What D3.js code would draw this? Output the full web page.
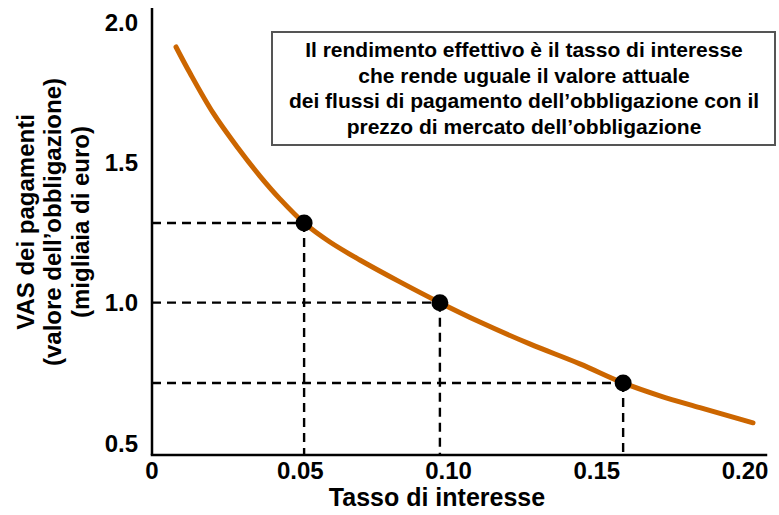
<!DOCTYPE html>
<html><head><meta charset="utf-8">
<script src="https://cdn.jsdelivr.net/npm/d3@7"></script>
<style>body{margin:0;background:#fff}text{font-family:"Liberation Sans",Arial,sans-serif;font-weight:bold;fill:#000}</style>
</head><body><svg id="c" width="779" height="515"></svg>
<script>
// Data
const curveRate  = [0.0081,0.0128,0.0206,0.0290,0.0364,0.0432,0.0513,0.0600,0.0701,0.0836,0.0971,0.1106,0.1274,0.1443,0.1589,0.1713,0.1848,0.2027];
const curveValue = [1.911,1.818,1.676,1.551,1.451,1.369,1.284,1.216,1.152,1.074,1.000,0.931,0.853,0.782,0.714,0.668,0.626,0.572];
const pointRate  = [0.0513,0.0971,0.1589];
const pointValue = [1.284,1.000,0.714];
const xTicks = [0,0.05,0.10,0.15,0.20];
const xTickLabels = ["0","0.05","0.10","0.15","0.20"];
const yTicks = [0.5,1.0,1.5,2.0];
const yTickLabels = ["0.5","1.0","1.5","2.0"];
const yTitle = ["VAS dei pagamenti","(valore dell\u2019obbligazione)","(migliaia di euro)"];
const xTitle = "Tasso di interesse";
const boxLines = ["Il rendimento effettivo è il tasso di interesse","che rende uguale il valore attuale","dei flussi di pagamento dell\u2019obbligazione con il","prezzo di mercato dell\u2019obbligazione"];

const svg = d3.select("#c");
const x = d3.scaleLinear().domain([0,0.2]).range([152,745]);
const y = d3.scaleLinear().domain([0.5,2.0]).range([443,22]);
const xMin = 0, xMax = 0.2075, yMin = 0.4575, yMax = 2.05;

// dashed guides
const pts = pointRate.map((r,i)=>({r, v:pointValue[i]}));
const g = svg.append("g").attr("stroke","#000").attr("stroke-width",2.4).attr("stroke-dasharray","9,6").attr("fill","none");
pts.forEach(p=>{
  g.append("line").attr("x1",x(xMin)).attr("x2",x(p.r)).attr("y1",y(p.v)).attr("y2",y(p.v));
  g.append("line").attr("x1",x(p.r)).attr("x2",x(p.r)).attr("y1",y(p.v)).attr("y2",y(yMin));
});

// curve
const data = curveRate.map((r,i)=>({r, v:curveValue[i]}));
svg.append("path").datum(data)
  .attr("d", d3.line().x(d=>x(d.r)).y(d=>y(d.v)).curve(d3.curveCatmullRom))
  .attr("fill","none").attr("stroke","#CC6600").attr("stroke-width",5).attr("stroke-linecap","round");

// dots
svg.selectAll("circle.pt").data(pts).join("circle").attr("class","pt")
  .attr("cx",d=>x(d.r)).attr("cy",d=>y(d.v)).attr("r",8.5).attr("fill","#000");

// axes
svg.append("line").attr("x1",x(xMin)).attr("x2",x(xMin)).attr("y1",y(yMax)).attr("y2",y(yMin)).attr("stroke","#000").attr("stroke-width",2.5);
svg.append("line").attr("x1",x(xMin)-1.25).attr("x2",x(xMax)).attr("y1",y(yMin)).attr("y2",y(yMin)).attr("stroke","#000").attr("stroke-width",2.5);

// tick labels
svg.selectAll("text.xt").data(xTicks).join("text").attr("class","xt")
  .attr("x",d=>x(d)).attr("y",479).attr("text-anchor","middle").attr("font-size",24)
  .text((d,i)=>xTickLabels[i]);
svg.selectAll("text.yt").data(yTicks).join("text").attr("class","yt")
  .attr("x",138).attr("y",d=>y(d)+8.5).attr("text-anchor","end").attr("font-size",24)
  .text((d,i)=>yTickLabels[i]);

// titles
svg.append("text").attr("x",437).attr("y",506).attr("text-anchor","middle").attr("font-size",25).text(xTitle);
const yt = svg.append("text").attr("transform","translate(0,222) rotate(-90)").attr("text-anchor","middle").attr("font-size",24);
yTitle.forEach((t,i)=>yt.append("tspan").attr("x",0).attr("y",33.5+i*27.5).text(t));

// annotation box
svg.append("rect").attr("x",272).attr("y",32).attr("width",503).attr("height",113).attr("fill","#fff").attr("stroke","#555").attr("stroke-width",2);
boxLines.forEach((t,i)=>svg.append("text").attr("x",524).attr("y",57+i*25.5).attr("text-anchor","middle").attr("font-size",21).text(t));
</script></body></html>
